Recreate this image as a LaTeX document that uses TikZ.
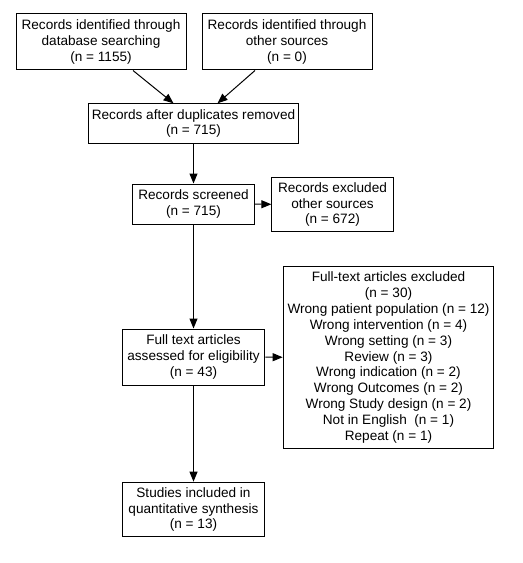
\documentclass[tikz,border=0pt]{standalone}
\usepackage{fontspec}
\setmainfont{Liberation Sans}
\usetikzlibrary{arrows.meta,positioning}

\begin{document}
\begin{tikzpicture}[x=0.75pt,y=-0.75pt,line width=0.75pt,
    >={Triangle[length=7.5pt,width=6pt]}]
  \tikzstyle{every node}=[font=\fontsize{10.2}{11.9}\selectfont]
  \tikzstyle{box}=[draw,rectangle,align=center,inner sep=0pt]
  \useasboundingbox (0,0) rectangle (522,563);

  \node (0) [box,minimum width=127.5pt,minimum height=42pt] at (101,42)
    {Records identified through\\database searching\\(n = 1155)};
  \node (1) [box,minimum width=127.5pt,minimum height=42pt] at (287,42)
    {Records identified through\\other sources\\(n = 0)};
  \node (2) [box,minimum width=157.5pt,minimum height=29.5pt] at (193.5,123.5)
    {Records after duplicates removed\\(n = 715)};
  \node (3) [box,minimum width=91.5pt,minimum height=30pt] at (193.5,204)
    {Records screened\\(n = 715)};
  \node (4) [box,minimum width=91pt,minimum height=41pt] at (332.5,204.5)
    {Records excluded\\other sources\\(n = 672)};
  \node (5) [box,minimum width=107pt,minimum height=42pt] at (193.5,357)
    {Full text articles\\assessed for eligibility\\(n = 43)};
  \node (6) [box,minimum width=158pt,minimum height=136pt] at (388.5,357.5)
    {Full-text articles excluded\\(n = 30)\\Wrong patient population (n = 12)\\
     Wrong intervention (n = 4)\\Wrong setting (n = 3)\\Review (n = 3)\\
     Wrong indication (n = 2)\\Wrong Outcomes (n = 2)\\
     Wrong Study design (n = 2)\\Not in English~~(n = 1)\\Repeat (n = 1)};
  \node (7) [box,minimum width=106pt,minimum height=41pt] at (193.5,509.5)
    {Studies included in\\quantitative synthesis\\(n = 13)};

  \path[->]
  ([xshift=24pt]0.south) edge node {} ([xshift=-15pt]2.north)
  ([xshift=-24pt]1.south) edge node {} ([xshift=18pt]2.north)
  (2) edge node {} (3)
  (3) edge node {} (4)
  (3) edge node {} (5)
  (5) edge node {} (6)
  (5) edge node {} (7)
  ;
\end{tikzpicture}
\end{document}
